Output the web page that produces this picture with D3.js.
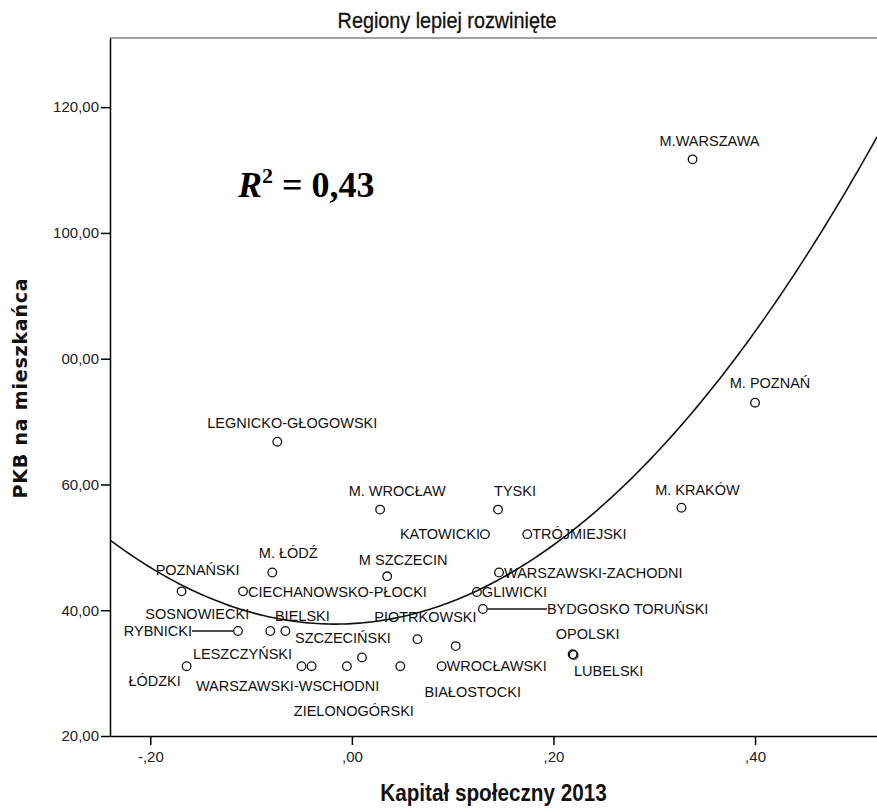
<!DOCTYPE html>
<html>
<head>
<meta charset="utf-8">
<script src="https://cdn.jsdelivr.net/npm/d3@7"></script>
<style>
  html, body { margin: 0; padding: 0; background: #fff; }
  svg { display: block; }
  .narrow { font-family: "Liberation Sans Narrow", "Arial Narrow", "Liberation Sans", sans-serif; }
</style>
</head>
<body>
<div id="chart"></div>
<script>
// Scatter: social capital 2013 vs GDP per capita, better developed subregions

const width = 877;
const height = 811;

// data
const regions = [
    "M.WARSZAWA", "M. POZNAŃ", "M. KRAKÓW", "LEGNICKO-GŁOGOWSKI", "M. WROCŁAW",
    "TYSKI", "KATOWICKI", "TRÓJMIEJSKI", "M. ŁÓDŹ", "M SZCZECIN",
    "WARSZAWSKI-ZACHODNI", "POZNAŃSKI", "CIECHANOWSKO-PŁOCKI", "GLIWICKI", "BYDGOSKO TORUŃSKI",
    "RYBNICKI", "SOSNOWIECKI", "BIELSKI", "ŁÓDZKI", "LESZCZYŃSKI",
    "WARSZAWSKI-WSCHODNI", "ZIELONOGÓRSKI", "SZCZECIŃSKI", "PIOTRKOWSKI", "",
    "BIAŁOSTOCKI", "WROCŁAWSKI", "OPOLSKI", "LUBELSKI"
];
const capital = [
    0.338, 0.400, 0.327, -0.074, 0.028,
    0.145, 0.132, 0.174, -0.079, 0.035,
    0.146, -0.169, -0.108, 0.124, 0.130,
    -0.113, -0.081, -0.066, -0.164, -0.050,
    -0.040, -0.005, 0.010, 0.065, 0.048,
    0.103, 0.089, 0.219, 0.220
];
const gdp = [
    111.7, 73.0, 56.3, 66.8, 56.0,
    56.0, 52.1, 52.1, 46.0, 45.4,
    46.0, 43.0, 43.0, 42.9, 40.2,
    36.7, 36.7, 36.7, 31.1, 31.1,
    31.1, 31.1, 32.5, 35.4, 31.1,
    34.3, 31.1, 33.0, 32.9
];

// quadratic fit line (intercept, linear, square)
const fitCoef = [37.87, 8.92, 268.0];
const rSquared = "0,43";

const xTicks = [-0.2, 0, 0.2, 0.4];
const xTickLabels = ["-,20", ",00", ",20", ",40"];
const yTicks = [20, 40, 60, 80, 100, 120];
const yTickLabels = ["20,00", "40,00", "60,00", "00,00", "100,00", "120,00"];

// label placement: anchor, dx, dy, leader line
const labelLayout = {
    "M.WARSZAWA": ["middle", 17, -19],
    "M. POZNAŃ": ["middle", 15, -20],
    "M. KRAKÓW": ["middle", 16, -18],
    "LEGNICKO-GŁOGOWSKI": ["middle", 15, -19],
    "M. WROCŁAW": ["middle", 17, -19],
    "TYSKI": ["middle", 17, -19],
    "KATOWICKI": ["end", -5, 0],
    "TRÓJMIEJSKI": ["start", 5, 0],
    "M. ŁÓDŹ": ["middle", 16, -20],
    "M SZCZECIN": ["middle", 16, -16],
    "WARSZAWSKI-ZACHODNI": ["start", 5, 0],
    "POZNAŃSKI": ["middle", 16, -22],
    "CIECHANOWSKO-PŁOCKI": ["start", 5, 0],
    "GLIWICKI": ["start", 5, 0],
    "BYDGOSKO TORUŃSKI": ["start", 64, 0, true],
    "RYBNICKI": ["end", -46, 0, true],
    "SOSNOWIECKI": ["middle", -73, -17],
    "BIELSKI": ["middle", 17, -15],
    "ŁÓDZKI": ["middle", -32, 15],
    "LESZCZYŃSKI": ["middle", -59, -12],
    "WARSZAWSKI-WSCHODNI": ["middle", -24, 20],
    "ZIELONOGÓRSKI": ["middle", 7, 45],
    "SZCZECIŃSKI": ["middle", -19, -20],
    "PIOTRKOWSKI": ["middle", 8, -22],
    "BIAŁOSTOCKI": ["middle", 17, 46],
    "WROCŁAWSKI": ["start", 5, 0],
    "OPOLSKI": ["middle", 15, -20],
    "LUBELSKI": ["middle", 35, 16]
};

const margin = { top: 38, right: 0, bottom: 75, left: 110 };
const plotW = width - margin.left - margin.right;
const plotH = height - margin.top - margin.bottom;

const points = regions.map((name, i) => ({ name: name, x: capital[i], y: gdp[i] }));

const x = d3.scaleLinear().domain([-0.24, 0.521]).range([0, plotW]);
const y = d3.scaleLinear().domain([20, 131]).range([plotH, 0]);

const svg = d3.select('#chart')
    .append('svg')
    .attr('width', width)
    .attr('height', height);

svg.append('defs').append('clipPath')
    .attr('id', 'plot-clip')
    .append('rect')
    .attr('width', plotW)
    .attr('height', plotH);

// title (condensed look)
svg.append('text')
    .attr('class', 'narrow')
    .attr('transform', 'translate(447,28) scale(0.9,1)')
    .attr('text-anchor', 'middle')
    .attr('font-size', '22px')
    .attr('fill', '#111')
    .attr('stroke', '#111')
    .attr('stroke-width', 0.3)
    .text('Regiony lepiej rozwinięte');

const g = svg.append('g')
    .attr('transform', `translate(${margin.left},${margin.top})`);

// top frame line
g.append('line')
    .attr('x1', 0).attr('x2', plotW)
    .attr('y1', 0).attr('y2', 0)
    .attr('stroke', '#808080')
    .attr('stroke-width', 1.5);

// axes
const xAxis = d3.axisBottom(x)
    .tickValues(xTicks)
    .tickFormat((d, i) => xTickLabels[i])
    .tickSizeInner(9)
    .tickSizeOuter(0)
    .tickPadding(3);
const yAxis = d3.axisLeft(y)
    .tickValues(yTicks)
    .tickFormat((d, i) => yTickLabels[i])
    .tickSizeInner(9)
    .tickSizeOuter(0)
    .tickPadding(2);

const gx = g.append('g')
    .attr('transform', `translate(0,${plotH})`)
    .call(xAxis);
const gy = g.append('g').call(yAxis);

[gx, gy].forEach(ax => {
    ax.select('.domain').attr('stroke', '#000').attr('stroke-width', 1.5);
    ax.selectAll('.tick line').attr('stroke', '#000').attr('stroke-width', 1.5);
    ax.selectAll('.tick text')
        .attr('fill', '#222')
        .style('font-family', '"Liberation Sans", Arial, sans-serif')
        .style('font-size', '15px');
});
gx.selectAll('.tick text').attr('dy', '0.9em');

// axis titles
svg.append('text')
    .attr('class', 'narrow')
    .attr('transform', `translate(${margin.left + plotW / 2},801) scale(0.9,1)`)
    .attr('text-anchor', 'middle')
    .attr('font-size', '23px')
    .attr('font-weight', 'bold')
    .attr('fill', '#111')
    .text('Kapitał społeczny 2013');

svg.append('text')
    .attr('transform', `translate(27,${388}) rotate(-90)`)
    .attr('text-anchor', 'middle')
    .attr('font-family', '"DejaVu Sans", sans-serif')
    .attr('font-size', '19px')
    .attr('font-weight', 'bold')
    .attr('letter-spacing', '0.8px')
    .attr('fill', '#111')
    .text('PKB na mieszkańca');

// fit curve
const curveXs = d3.range(0, 201).map(i => x.domain()[0] + (x.domain()[1] - x.domain()[0]) * i / 200);
const fitLine = d3.line()
    .x(d => x(d))
    .y(d => y(fitCoef[0] + fitCoef[1] * d + fitCoef[2] * d * d));

g.append('path')
    .datum(curveXs)
    .attr('clip-path', 'url(#plot-clip)')
    .attr('d', fitLine)
    .attr('fill', 'none')
    .attr('stroke', '#111')
    .attr('stroke-width', 1.6);

// leader lines
points.filter(d => labelLayout[d.name] && labelLayout[d.name][3]).forEach(d => {
    const dx = labelLayout[d.name][1];
    const cx = x(d.x), cy = y(d.y);
    g.append('line')
        .attr('x1', cx + (dx > 0 ? 5 : -5))
        .attr('x2', cx + dx)
        .attr('y1', cy).attr('y2', cy)
        .attr('stroke', '#111')
        .attr('stroke-width', 1.3);
});

// points
g.selectAll('.pt')
    .data(points)
    .enter()
    .append('circle')
    .attr('class', 'pt')
    .attr('cx', d => x(d.x))
    .attr('cy', d => y(d.y))
    .attr('r', 4.3)
    .attr('fill', 'none')
    .attr('stroke', '#111')
    .attr('stroke-width', 1.3);

// point labels
g.selectAll('.lbl')
    .data(points.filter(d => d.name && labelLayout[d.name]))
    .enter()
    .append('text')
    .attr('class', 'lbl')
    .attr('x', d => x(d.x) + labelLayout[d.name][1])
    .attr('y', d => y(d.y) + labelLayout[d.name][2])
    .attr('dy', '0.36em')
    .attr('text-anchor', d => labelLayout[d.name][0])
    .attr('font-family', '"Liberation Sans", Arial, sans-serif')
    .attr('font-size', '14.5px')
    .attr('fill', '#111')
    .text(d => d.name);

// R squared annotation
const rt = svg.append('text')
    .attr('x', 238)
    .attr('y', 197)
    .attr('font-family', '"Liberation Serif", "Times New Roman", serif')
    .attr('font-size', '36px')
    .attr('font-weight', 'bold')
    .attr('fill', '#000');
rt.append('tspan').attr('font-style', 'italic').text('R');
rt.append('tspan').attr('font-size', '22px').attr('dy', -14).text('2');
rt.append('tspan').attr('dy', 14).text(' = ' + rSquared);
</script>
</body>
</html>
